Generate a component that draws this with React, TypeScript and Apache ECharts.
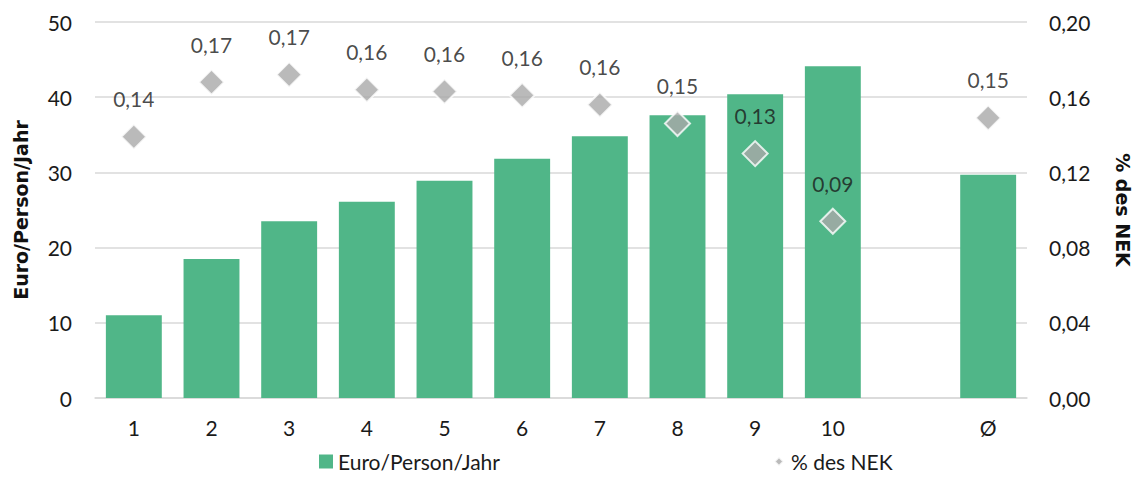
import React, { useEffect, useRef } from "react";
import * as echarts from "echarts";

const categories = ["1", "2", "3", "4", "5", "6", "7", "8", "9", "10", "", "Ø"];
const euroPerPerson = [11.0, 18.5, 23.5, 26.1, 28.9, 31.8, 34.8, 37.6, 40.4, 44.1, null, 29.7];
const shareNEK = [0.139, 0.168, 0.172, 0.164, 0.163, 0.161, 0.156, 0.146, 0.13, 0.094, null, 0.149];
const leftTicks = { min: 0, max: 50, interval: 10 };
const rightTicks = { min: 0, max: 0.2, interval: 0.04 };

const FONT = "Lato, 'Open Sans', sans-serif";
const BOLD_FONT = "'DejaVu Sans', sans-serif";
const TXT = "#1a1a1a";
const fmt = (v: number) => v.toFixed(2).replace(".", ",");

export default function App() {
  const ref = useRef<HTMLDivElement>(null);
  useEffect(() => {
    if (!ref.current) return;
    const chart = echarts.init(ref.current, undefined, { renderer: "svg" });
    chart.setOption({
      animation: false,
      textStyle: { fontFamily: FONT },
      grid: { left: 95, right: 114, top: 22, bottom: 83, containLabel: false, outerBoundsMode: "none" },
      legend: {
        left: 314,
        bottom: 4,
        itemGap: 271,
        itemWidth: 14,
        itemHeight: 14,
        textStyle: { fontSize: 21, color: TXT, fontFamily: FONT },
        data: [
          { name: "Euro/Person/Jahr", icon: "rect" },
          { name: "% des NEK", icon: "path://M0,0M14,14M7,2.5L11.5,7L7,11.5L2.5,7Z" },
        ],
      },
      xAxis: {
        type: "category",
        data: categories,
        axisTick: { show: false },
        axisLine: { lineStyle: { color: "#d9d9d9", width: 1.5 } },
        axisLabel: { fontSize: 21, color: TXT, margin: 19, fontFamily: FONT },
      },
      yAxis: [
        {
          type: "value",
          ...leftTicks,
          name: "Euro/Person/Jahr",
          nameLocation: "middle",
          nameRotate: 90,
          nameGap: 65,
          nameTextStyle: { fontSize: 19, fontWeight: "bold", color: "#111", fontFamily: BOLD_FONT },
          axisLine: { show: false },
          axisTick: { show: false },
          axisLabel: { fontSize: 21, color: TXT, margin: 23, fontFamily: FONT },
          splitLine: { lineStyle: { color: "#d9d9d9", width: 1.5 } },
        },
        {
          type: "value",
          ...rightTicks,
          name: "% des NEK",
          nameLocation: "middle",
          nameRotate: -90,
          nameGap: 86,
          nameTextStyle: { fontSize: 19, fontWeight: "bold", color: "#111", fontFamily: BOLD_FONT },
          axisLine: { show: false },
          axisTick: { show: false },
          axisLabel: { fontSize: 21, color: TXT, margin: 22, fontFamily: FONT, formatter: (v: number) => fmt(v) },
          splitLine: { show: false },
        },
      ],
      series: [
        {
          name: "Euro/Person/Jahr",
          type: "bar",
          data: euroPerPerson,
          barWidth: "72%",
          itemStyle: { color: "#50B688" },
        },
        {
          name: "% des NEK",
          type: "scatter",
          yAxisIndex: 1,
          data: shareNEK,
          symbol: "diamond",
          symbolSize: 25,
          itemStyle: { color: "#A9A9A9", borderColor: "#fff", borderWidth: 2 },
          label: {
            show: true,
            position: "top",
            distance: 14,
            fontSize: 21,
            color: TXT,
            fontFamily: FONT,
            formatter: (p: any) => fmt(p.value),
          },
        },
      ],
    });
    return () => chart.dispose();
  }, []);
  return (
    <div
      ref={ref}
      style={{ position: "absolute", left: 0, top: 0, width: 1141, height: 481 }}
    />
  );
}
